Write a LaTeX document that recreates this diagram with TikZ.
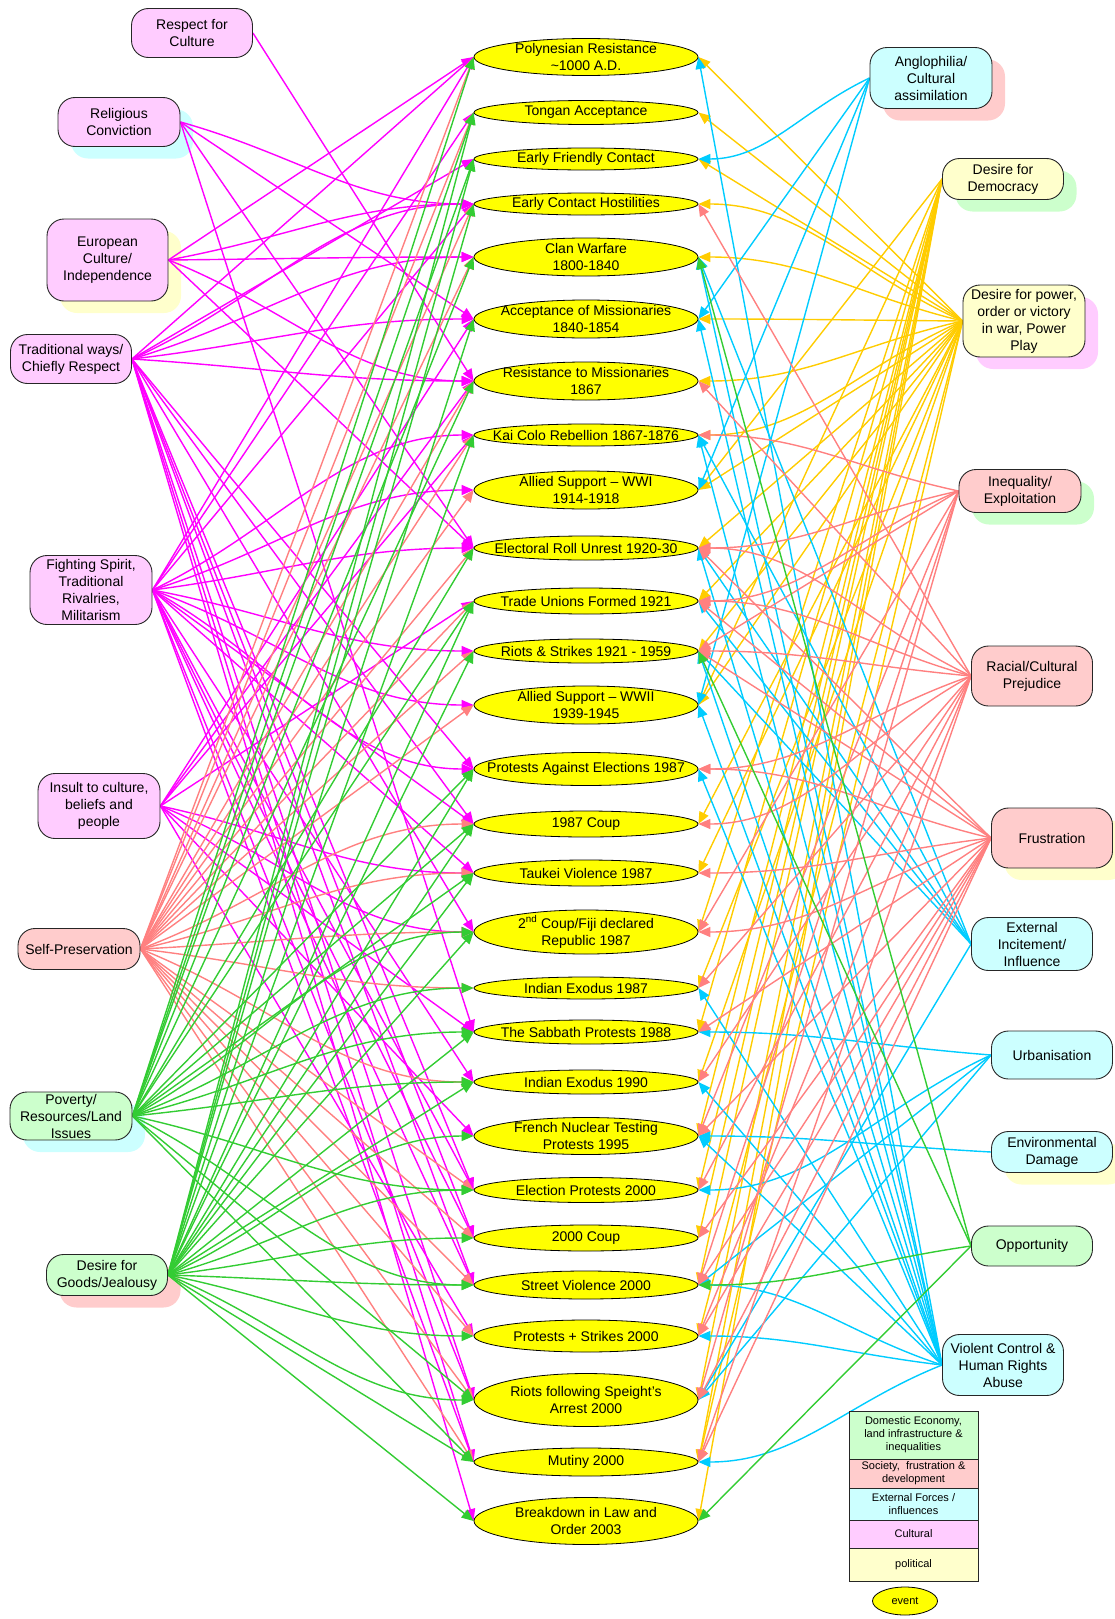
\documentclass[tikz,border=0pt]{standalone}
\usepackage{fontspec}
\setmainfont{Liberation Sans}
\usetikzlibrary{shapes.geometric,arrows.meta,calc}
\definecolor{cPink}{HTML}{FFCCFF}
\definecolor{cRed}{HTML}{FFCCCC}
\definecolor{cGreen}{HTML}{CCFFCC}
\definecolor{cCyan}{HTML}{CCFFFF}
\definecolor{cYel}{HTML}{FFFFCC}
\definecolor{cEv}{HTML}{FFFF00}
\definecolor{lMag}{HTML}{FF00FF}
\definecolor{lSal}{HTML}{FF8080}
\definecolor{lGrn}{HTML}{33CC33}
\definecolor{lCyn}{HTML}{00CCFF}
\definecolor{lGld}{HTML}{FFCC00}
\pgfdeclarelayer{shd}
\pgfdeclarelayer{edg}
\pgfsetlayers{shd,edg,main}
\tikzset{
 cause/.style={draw=black!85, line width=0.9pt, rounded corners=17pt, align=center, inner sep=0pt, font=\fontsize{14}{17}\selectfont},
 evt/.style={ellipse, draw=black, line width=0.8pt, fill=cEv, inner sep=0pt, minimum width=224pt},
 evtxt/.style={align=center, inner sep=0pt, font=\fontsize{14}{17}\selectfont},
 edge/.style={line width=1.4pt, -{Triangle[length=12pt,width=10pt]}},
 lgbox/.style={draw=black!85, line width=0.9pt, align=center, inner sep=0pt, minimum width=129pt, font=\fontsize{11}{13}\selectfont},
}
\newcommand{\cbox}[7]{\node[cause, fill=#6, minimum width=#4pt, minimum height=#5pt] (#1) at (#2,#3) {#7};}
\newcommand{\cshd}[5]{\begin{pgfonlayer}{shd}\fill[#5, rounded corners=17pt] (#1-#3/2+13,#2-#4/2+12) rectangle (#1+#3/2+13,#2+#4/2+12);\end{pgfonlayer}}
\newcommand{\ev}[4]{\node[evt, minimum height=#3pt] (#1) at (586,#2) {}; \node[evtxt] (#1t) at (586,#2) {#4};}
\newcommand{\ledge}[3]{\draw[edge, #1] let \p1=(#2.east), \p2=(#3.west), \n1={(\y2-\y1)/(\x2-\x1)}, \n2={abs(\n1)<0.58 ? 0 : \n1}, \n3={0.4*(\x2-\x1)} in (\p1) .. controls ($(\p1)!0.4!(\p2)$) and ({\x2-\n3},{\y2-\n3*\n2}) .. (\p2);}
\newcommand{\redge}[3]{\draw[edge, #1] let \p1=(#2.west), \p2=(#3.east), \n1={(\y2-\y1)/(\x2-\x1)}, \n2={abs(\n1)<0.58 ? 0 : \n1}, \n3={0.4*(\x2-\x1)} in (\p1) .. controls ($(\p1)!0.4!(\p2)$) and ({\x2-\n3},{\y2-\n3*\n2}) .. (\p2);}
\begin{document}
\begin{tikzpicture}[x=1pt,y=-1pt]
\useasboundingbox (0,0) rectangle (1114,1619);
% shadows
\cshd{119}{122}{122}{49}{cCyan}
\cshd{107.5}{260}{121}{82}{cYel}
\cshd{71}{1116}{122}{48}{cCyan}
\cshd{107}{1275}{121}{41}{cRed}
\cshd{931}{78}{122}{61}{cRed}
\cshd{1003}{179}{121}{41}{cGreen}
\cshd{1024}{321}{122}{72}{cPink}
\cshd{1020}{491}{122}{43}{cGreen}
\cshd{1052}{838}{121}{60}{cYel}
\cshd{1052}{1152}{121}{41}{cYel}
% left causes
\cbox{RC}{192}{33}{121}{49}{cPink}{Respect for\\Culture}
\cbox{Rel}{119}{122}{122}{49}{cPink}{Religious\\Conviction}
\cbox{Eu}{107.5}{260}{121}{82}{cPink}{European\\Culture/\\Independence}
\cbox{TW}{71}{359}{121}{49}{cPink}{Traditional ways/\\Chiefly Respect}
\cbox{FS}{91}{590}{122}{69}{cPink}{Fighting Spirit,\\Traditional\\Rivalries,\\Militarism}
\cbox{IC}{99}{806}{122}{65}{cPink}{Insult to culture,\\beliefs and\\people}
\cbox{SP}{79}{949}{122}{41}{cRed}{Self-Preservation}
\cbox{PV}{71}{1116}{122}{48}{cGreen}{Poverty/\\Resources/Land\\Issues}
\cbox{G}{107}{1275}{121}{41}{cGreen}{Desire for\\Goods/Jealousy}
% right causes
\cbox{A}{931}{78}{122}{61}{cCyan}{Anglophilia/\\Cultural\\assimilation}
\cbox{D}{1003}{179}{121}{41}{cYel}{Desire for\\Democracy}
\cbox{P}{1024}{321}{122}{72}{cYel}{Desire for power,\\order or victory\\in war, Power\\Play}
\cbox{I}{1020}{491}{122}{43}{cRed}{Inequality/\\Exploitation}
\cbox{R}{1032}{676}{121}{60}{cRed}{Racial/Cultural\\Prejudice}
\cbox{F}{1052}{838}{121}{60}{cRed}{Frustration}
\cbox{X}{1032}{944}{121}{53}{cCyan}{External\\Incitement/\\Influence}
\cbox{U}{1052}{1055}{121}{48}{cCyan}{Urbanisation}
\cbox{Env}{1052}{1152}{121}{41}{cCyan}{Environmental\\Damage}
\cbox{Opp}{1032}{1246}{121}{40}{cGreen}{Opportunity}
\cbox{V}{1003}{1365}{121}{61}{cCyan}{Violent Control \&\\Human Rights\\Abuse}
% events
\ev{e1}{57}{37}{Polynesian Resistance\\\textasciitilde1000 A.D.}
\ev{e2}{112.5}{24}{Tongan Acceptance}
\ev{e3}{159}{22}{Early Friendly Contact}
\ev{e4}{204}{22}{Early Contact Hostilities}
\ev{e5}{257}{38}{Clan Warfare\\1800-1840}
\ev{e6}{319}{38}{Acceptance of Missionaries\\1840-1854}
\ev{e7}{381}{38}{Resistance to Missionaries\\1867}
\ev{e8}{435}{22}{Kai Colo Rebellion 1867-1876}
\ev{e9}{490}{38}{Allied Support – WWI\\1914-1918}
\ev{e10}{548}{24}{Electoral Roll Unrest 1920-30}
\ev{e11}{601}{26}{Trade Unions Formed 1921}
\ev{e12}{651}{24}{Riots \& Strikes 1921 - 1959}
\ev{e13}{705}{38}{Allied Support – WWII\\1939-1945}
\ev{e14}{769}{33}{Protests Against Elections 1987}
\ev{e15}{824}{26}{1987 Coup}
\ev{e16}{873}{26}{Taukei Violence 1987}
\ev{e17}{932}{44}{2\textsuperscript{nd} Coup/Fiji declared\\Republic 1987}
\ev{e18}{988}{22}{Indian Exodus 1987}
\ev{e19}{1032}{24}{The Sabbath Protests 1988}
\ev{e20}{1082}{24}{Indian Exodus 1990}
\ev{e21}{1136}{37}{French Nuclear Testing\\Protests 1995}
\ev{e22}{1190}{25}{Election Protests 2000}
\ev{e23}{1238}{26}{2000 Coup}
\ev{e24}{1285}{28}{Street Violence 2000}
\ev{e25}{1336}{32}{Protests + Strikes 2000}
\ev{e26}{1400}{53}{Riots following Speight’s\\Arrest 2000}
\ev{e27}{1462}{28}{Mutiny 2000}
\ev{e28}{1521}{47}{Breakdown in Law and\\Order 2003}
% legend
\node[lgbox, fill=cGreen, minimum height=48pt] (lg1) at (913.5,1435) {Domestic Economy,\\land infrastructure \&\\inequalities};
\node[lgbox, fill=cRed, minimum height=29pt] (lg2) at (913.5,1473.5) {Society,\ \ frustration \&\\development};
\node[lgbox, fill=cCyan, minimum height=32pt] (lg3) at (913.5,1504) {External Forces /\\influences};
\node[lgbox, fill=cPink, minimum height=28pt] (lg4) at (913.5,1534) {Cultural};
\node[lgbox, fill=cYel, minimum height=33pt] (lg5) at (913.5,1564.5) {political};
\node[ellipse, draw=black, line width=0.8pt, fill=cEv, minimum width=65pt, minimum height=28pt, inner sep=0pt, font=\fontsize{11}{13}\selectfont] (lgev) at (905,1601) {event};
% edges
\begin{pgfonlayer}{edg}
% left magenta
\foreach \t in {e7} {\ledge{lMag}{RC}{\t}}
\foreach \t in {e4,e6,e10,e19} {\ledge{lMag}{Rel}{\t}}
\foreach \t in {e1,e4,e5,e7,e10} {\ledge{lMag}{Eu}{\t}}
\foreach \t in {e1,e3,e4,e5,e6,e7,e14,e15,e17,e22,e23,e24,e26,e27,e28} {\ledge{lMag}{TW}{\t}}
\foreach \t in {e1,e2,e4,e8,e9,e10,e12,e13,e14,e15,e16,e20,e22,e23,e24,e26,e27} {\ledge{lMag}{FS}{\t}}
\foreach \t in {e6,e7,e8,e11,e16,e17,e19,e21,e25} {\ledge{lMag}{IC}{\t}}
% left salmon
\foreach \t in {e1,e2,e4,e5,e7,e8,e9,e10,e11,e12,e13,e15,e16,e17,e18,e20,e22,e23,e24,e25,e26,e27} {\ledge{lSal}{SP}{\t}}
% left green
\foreach \t in {e1,e2,e3,e5,e7,e10,e11,e14,e15,e16,e17,e18,e19,e20,e22,e24,e26,e27} {\ledge{lGrn}{PV}{\t}}
\foreach \t in {e2,e3,e4,e6,e8,e11,e12,e14,e15,e16,e17,e19,e20,e21,e22,e23,e24,e25,e26,e27,e28} {\ledge{lGrn}{G}{\t}}
% right gold
\foreach \t in {e1,e2,e3,e4,e5,e6,e7,e8,e9,e10,e11,e12,e13,e15,e16,e18,e20,e25,e27} {\redge{lGld}{P}{\t}}
\foreach \t in {e9,e13,e17,e19,e21,e22,e23,e24,e26,e27,e28} {\redge{lGld}{D}{\t}}
% right cyan
\foreach \t in {e3,e6,e9,e13} {\redge{lCyn}{A}{\t}}
\foreach \t in {e5,e8,e10,e11,e12,e26} {\redge{lCyn}{X}{\t}}
\foreach \t in {e19,e22,e24,e26} {\redge{lCyn}{U}{\t}}
\foreach \t in {e21} {\redge{lCyn}{Env}{\t}}
\foreach \t in {e1,e5,e6,e8,e10,e12,e13,e14,e18,e20,e21,e24,e25,e27} {\redge{lCyn}{V}{\t}}
% right salmon
\foreach \t in {e8,e10,e11,e12,e17,e21,e24,e26} {\redge{lSal}{I}{\t}}
\foreach \t in {e4,e7,e10,e11,e12,e14,e15,e18,e20,e22,e25,e27} {\redge{lSal}{R}{\t}}
\foreach \t in {e10,e11,e12,e14,e16,e17,e19,e21,e23,e24,e25,e26,e27} {\redge{lSal}{F}{\t}}
% right green
\foreach \t in {e5,e12,e24,e28} {\redge{lGrn}{Opp}{\t}}
\end{pgfonlayer}
\end{tikzpicture}
\end{document}
